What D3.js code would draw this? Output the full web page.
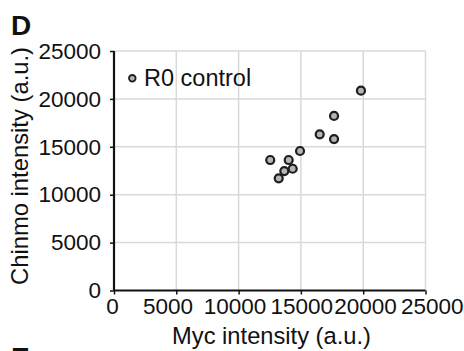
<!DOCTYPE html>
<html>
<head>
<meta charset="utf-8">
<script src="https://cdn.jsdelivr.net/npm/d3@7"></script>
<style>
  html, body { margin: 0; padding: 0; background: #fff; }
  svg { display: block; font-family: "Liberation Sans", Arial, Helvetica, sans-serif; }
</style>
</head>
<body>
<svg id="chart" width="464" height="351"></svg>
<script>
// R0 control cells: Myc vs Chinmo intensity (a.u.)
const mycIntensity    = [19820, 17660, 16510, 17660, 14930, 12540, 14020, 14340, 13670, 13220];
const chinmoIntensity = [20860, 18220, 16300, 15810, 14560, 13620, 13620, 12710, 12470, 11710];
const tickValues = [0, 5000, 10000, 15000, 20000, 25000];
const seriesName = "R0 control";

const svg = d3.select("#chart");
const plotLeft = 114, plotRight = 425.5, plotTop = 51, plotBottom = 290.5;

const x = d3.scaleLinear().domain([0, 25000]).range([plotLeft, plotRight]);
const y = d3.scaleLinear().domain([0, 25000]).range([plotBottom, plotTop]);
// x tick labels are spread a little wider than the ticks so they don't collide
const xLabelX = d3.scaleLinear().domain(tickValues).range([112, 167.5, 234.5, 301.3, 365, 431.7]);

// grid
const grid = svg.append("g").attr("stroke", "#d9d9d9").attr("stroke-width", 1.5);
grid.selectAll("line.v").data(tickValues.slice(1)).join("line").attr("class", "v")
  .attr("x1", d => x(d)).attr("x2", d => x(d)).attr("y1", plotTop).attr("y2", plotBottom);
grid.selectAll("line.h").data(tickValues.slice(1)).join("line").attr("class", "h")
  .attr("y1", d => y(d)).attr("y2", d => y(d)).attr("x1", plotLeft).attr("x2", plotRight);

// axes
const xAxis = svg.append("g").attr("transform", `translate(0,${plotBottom})`)
  .call(d3.axisBottom(x).tickValues(tickValues).tickSize(4).tickPadding(6).tickFormat(d3.format("d")));
const yAxis = svg.append("g").attr("transform", `translate(${plotLeft},0)`)
  .call(d3.axisLeft(y).tickValues(tickValues).tickSize(4).tickPadding(9).tickFormat(d3.format("d")));
[xAxis, yAxis].forEach(g => {
  g.select(".domain").attr("stroke", "#111").attr("stroke-width", 2.2);
  g.selectAll(".tick line").attr("stroke", "#111").attr("stroke-width", 1.5);
  g.selectAll(".tick text").attr("fill", "#111").style("font-size", "22.5px")
    .style("font-family", "'Liberation Sans', Arial, sans-serif");
});
xAxis.select(".domain").attr("d", `M${plotLeft},0H${plotRight}`);
yAxis.select(".domain").attr("d", `M0,${plotTop}V${plotBottom}`);
xAxis.selectAll(".tick text")
  .attr("x", d => xLabelX(d) - x(d))
  .attr("y", 23).attr("dy", 0);

// points
svg.append("g").selectAll("circle").data(mycIntensity).join("circle")
  .attr("cx", d => x(d))
  .attr("cy", (d, i) => y(chinmoIntensity[i]))
  .attr("r", 4)
  .attr("fill", "#b5b5b5")
  .attr("stroke", "#1e1e1e")
  .attr("stroke-width", 2.2);

// legend
svg.append("circle").attr("cx", 132.3).attr("cy", 78.3).attr("r", 3.3)
  .attr("fill", "#b5b5b5").attr("stroke", "#1e1e1e").attr("stroke-width", 1.8);
svg.append("text").attr("x", 144).attr("y", 86).attr("fill", "#111")
  .style("font-size", "23.5px").text(seriesName);

// axis titles
svg.append("text").attr("x", 271.5).attr("y", 344)
  .attr("text-anchor", "middle").attr("fill", "#111").style("font-size", "23.7px")
  .text("Myc intensity (a.u.)");
svg.append("text").attr("transform", "translate(28,166) rotate(-90)")
  .attr("text-anchor", "middle").attr("fill", "#111").style("font-size", "23.8px")
  .text("Chinmo intensity (a.u.)");

// panel letters
svg.append("text").attr("x", 11).attr("y", 35).attr("fill", "#111")
  .style("font-size", "28px").style("font-weight", "bold").text("D");
svg.append("text").attr("x", 11).attr("y", 367).attr("fill", "#111")
  .style("font-size", "28px").style("font-weight", "bold").text("E");
</script>
</body>
</html>
